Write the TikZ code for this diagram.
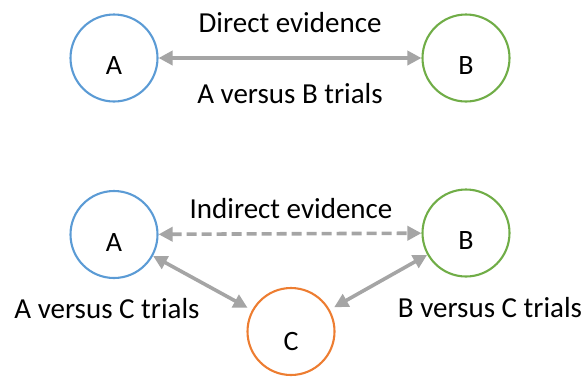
\documentclass[tikz,border=0pt]{standalone}
\usepackage{fontspec}
\setmainfont{Carlito}
\usetikzlibrary{arrows.meta}
\definecolor{cblue}{HTML}{5B9BD5}
\definecolor{cgreen}{HTML}{70AD47}
\definecolor{corange}{HTML}{ED7D31}
\definecolor{cgray}{HTML}{A5A5A5}
\tikzset{
  circ/.style={circle, draw, line width=2.1bp, minimum size=87bp, inner sep=0pt},
  letter/.style={font=\fontsize{28bp}{32bp}\selectfont, anchor=base, inner sep=0pt},
  lbl/.style={font=\fontsize{29bp}{34bp}\selectfont, anchor=base, inner sep=0pt},
  conn/.style={draw=cgray, line width=3.6bp, {Triangle[length=14bp,width=14bp]}-{Triangle[length=14bp,width=14bp]}},
  dconn/.style={conn, dash pattern=on 10bp off 5bp}
}
\begin{document}
\begin{tikzpicture}[x=1bp,y=-1bp]
\useasboundingbox (0,0) rectangle (584,379);
% top
\node[circ, draw=cblue] (A1) at (114,58) {};
\node[circ, draw=cgreen] (B1) at (466,58) {};
\node[letter] (A1l) at (114,74.5) {A};
\node[letter] (B1l) at (466,74.5) {B};
\draw[conn] (A1) -- (B1);
\node[lbl] (d) at (290,32.5) {Direct evidence};
\node[lbl] (ab) at (290,103) {A versus B trials};
% bottom
\node[circ, draw=cblue] (A2) at (114,234.5) {};
\node[circ, draw=cgreen] (B2) at (466,233) {};
\node[circ, draw=corange] (C2) at (291,331.5) {};
\node[letter] (A2l) at (114,251) {A};
\node[letter] (B2l) at (466,249.5) {B};
\node[letter] (C2l) at (291,350) {C};
\draw[dconn] (A2) -- (B2);
\draw[conn, shorten >=5bp] (A2) -- (C2);
\draw[conn, shorten >=5bp] (B2) -- (C2);
\node[lbl] (ind) at (291,218) {Indirect evidence};
\node[lbl] (ac) at (107,318) {A versus C trials};
\node[lbl] (bc) at (490,317.5) {B versus C trials};
\end{tikzpicture}
\end{document}
